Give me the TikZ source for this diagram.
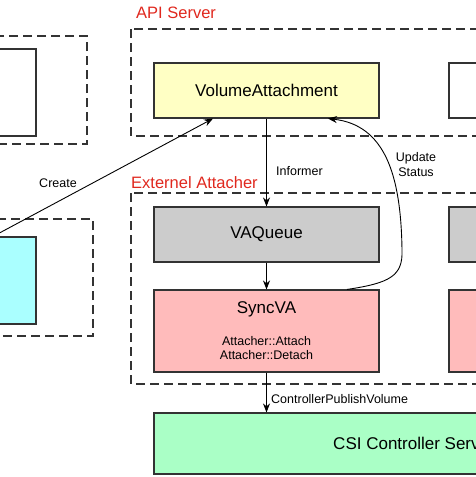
\documentclass[tikz,border=0pt]{standalone}
\usepackage{fontspec}
\setmainfont{Liberation Sans}
\usetikzlibrary{arrows.meta,calc}
\definecolor{vayellow}{HTML}{FFFFC4}
\definecolor{vagray}{HTML}{CCCCCC}
\definecolor{vapink}{HTML}{FFBBBB}
\definecolor{vacyan}{HTML}{AAFFFF}
\definecolor{vagreen}{HTML}{AAFFC6}
\definecolor{vared}{HTML}{E0281E}
\definecolor{vaedge}{HTML}{333333}
\begin{document}
\begin{tikzpicture}[x=1pt,y=-1pt,
  boxstyle/.style={draw=vaedge,line width=1.1pt,rectangle,inner sep=0pt,anchor=center,font=\fontsize{17}{20}\selectfont},
  groupbox/.style={draw=vaedge,line width=1.1pt,dash pattern=on 9pt off 5pt},
  grouplabel/.style={text=vared,font=\fontsize{16.5}{20}\selectfont,anchor=west,inner sep=0pt},
  smalllabel/.style={font=\fontsize{12.5}{15}\selectfont,inner sep=0pt},
  flow/.style={draw=black,line width=0.9pt,-{Stealth[length=9pt,width=7pt]}}]
\useasboundingbox (0,0) rectangle (476,477);
\clip (0,0) rectangle (476,477);
% group frames
\draw[groupbox] (-20,36) rectangle (87,144);
\draw[groupbox] (-20,219) rectangle (93,336);
\draw[groupbox] (131,29) rectangle (520,136);
\draw[groupbox] (131,193) rectangle (520,384);
\node[grouplabel] (apil) at (136,13) {API Server};
\node[grouplabel] (extl) at (131,183) {Externel Attacher};
% left boxes
\node[boxstyle,fill=white,minimum width=100pt,minimum height=87pt] (lefttop) at (-14,92.5) {};
\node[boxstyle,fill=vacyan,minimum width=86pt,minimum height=87pt] (cyan) at (-7,280.5) {};
% main column
\node[boxstyle,fill=vayellow,minimum width=225pt,minimum height=55pt] (va) at (266.5,90.5) {VolumeAttachment};
\node[boxstyle,fill=vagray,minimum width=225pt,minimum height=55pt] (vaq) at (266.5,234.5) {VAQueue};
\node[boxstyle,fill=vapink,minimum width=225pt,minimum height=82pt] (sync) at (266.5,331) {};
\node[font=\fontsize{17}{20}\selectfont,inner sep=0pt] (synct) at (266.5,309) {SyncVA};
\node[font=\fontsize{12.5}{14.5}\selectfont,align=center,inner sep=0pt] (syncops) at (266.5,348) {Attacher::Attach\\Attacher::Detach};
\node[boxstyle,fill=vagreen,minimum width=520pt,minimum height=61pt] (csi) at (414,443.5) {CSI Controller Server};
% right column (cut off)
\node[boxstyle,fill=white,minimum width=100pt,minimum height=55pt] (vart) at (499,90.5) {};
\node[boxstyle,fill=vagray,minimum width=100pt,minimum height=55pt] (vaqr) at (499,234.5) {};
\node[boxstyle,fill=vapink,minimum width=100pt,minimum height=82pt] (syncr) at (499,331) {};
% connectors
\draw[flow] (va.south) -- (vaq.north);
\node[smalllabel,anchor=west] (infl) at (276,171) {Informer};
\draw[flow] (vaq.south) -- (sync.north);
\draw[flow] (sync.south) -- (sync.south |- csi.north);
\node[smalllabel,anchor=west] (cpvl) at (271,399.5) {ControllerPublishVolume};
\draw[flow] ($(sync.north)+(80.5,0)$) .. controls (390,283) and (403,276) .. (402,250)
  .. controls (401,175) and (385,125) .. ($(va.south)+(61.5,0)$);
\node[smalllabel,align=center,font=\fontsize{12.5}{15}\selectfont] (updl) at (416,165) {Update\\Status};
\draw[flow] (cyan.north) -- ($(va.south)+(-53.5,0)$);
\node[smalllabel] (crl) at (58,183) {Create};
\end{tikzpicture}
\end{document}
